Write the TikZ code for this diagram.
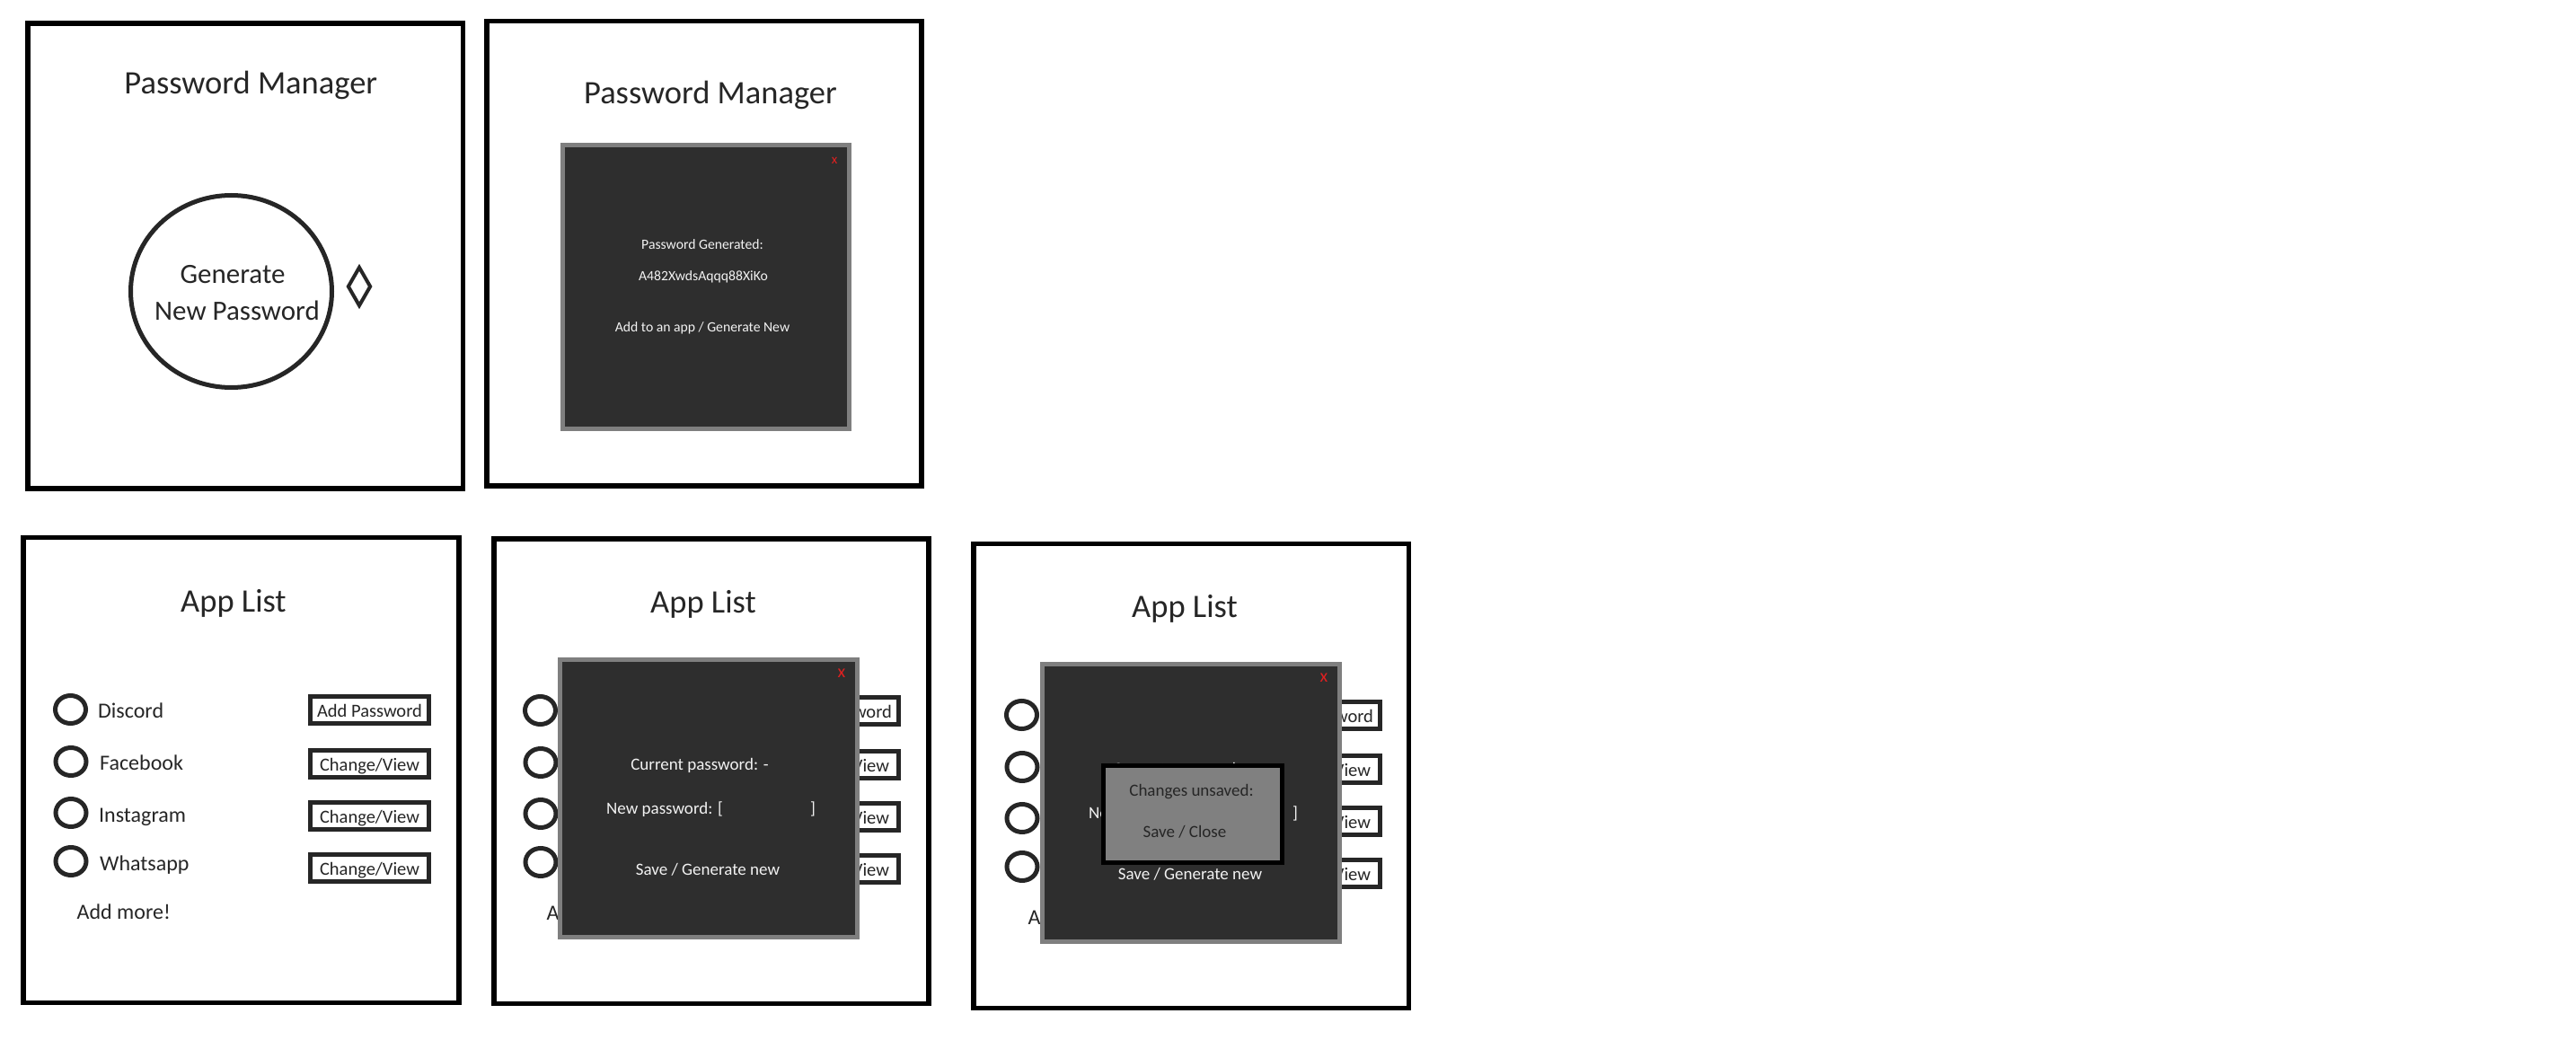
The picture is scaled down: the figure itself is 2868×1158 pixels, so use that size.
\documentclass[tikz,border=0pt]{standalone}
\usepackage{fontspec}
\setmainfont{Carlito}
\usetikzlibrary{shapes.geometric}
\definecolor{ink}{HTML}{262626}
\definecolor{dlgfill}{HTML}{2E2E2E}
\definecolor{dlgedge}{HTML}{7F7F7F}
\definecolor{popfill}{HTML}{808080}
\definecolor{redx}{HTML}{E02020}
\definecolor{dlgtext}{HTML}{F2F2F2}
\newcommand\fsz[1]{\fontsize{#1}{#1}\selectfont}
\tikzset{
  panel/.style={draw=black, line width=5.5pt},
  titletxt/.style={inner sep=0, anchor=base, text=ink, font=\fsz{36.5}},
  lbl/.style={inner sep=0, anchor=base west, text=ink, font=\fsz{24}},
  btn/.style={draw=ink, line width=5pt, rectangle, minimum width=132pt, minimum height=30pt,
    inner sep=0, text=ink, font=\fsz{20.5}, text height=16pt, text depth=0pt},
  appcircle/.style={draw=ink, line width=5pt, ellipse, minimum width=34pt, minimum height=31pt, inner sep=0},
  dialog/.style={draw=dlgedge, fill=dlgfill, line width=5pt, rectangle, inner sep=0},
  dtxt/.style={inner sep=0, anchor=base, text=dlgtext},
  closex/.style={inner sep=0, anchor=base, text=redx},
}
% list skeleton (title, circles, buttons, "Add more!")
\newcommand\applistpanel[3]{%
  \begin{scope}[shift={(#2,#3)}]
    \node[titletxt] (#1title) at (260,681) {App List};
    \node[appcircle] (#1c1) at (78.5,790) {};
    \node[appcircle] (#1c2) at (79,848) {};
    \node[appcircle] (#1c3) at (79,905) {};
    \node[appcircle] (#1c4) at (79,959) {};
    \node[lbl] (#1more) at (85.5,1023) {Add more!};
    \node[btn] (#1b1) at (411.5,790.5) {Add Password};
    \node[btn] (#1b2) at (411.5,850.5) {Change/View};
    \node[btn] (#1b3) at (411.5,908.5) {Change/View};
    \node[btn] (#1b4) at (411.5,966) {Change/View};
  \end{scope}}
% app names (only visible where no dialog covers them)
\newcommand\applistlabels[3]{%
  \begin{scope}[shift={(#2,#3)}]
    \node[lbl] (#1l1) at (109,799) {Discord};
    \node[lbl] (#1l2) at (111,857) {Facebook};
    \node[lbl] (#1l3) at (110,915) {Instagram};
    \node[lbl] (#1l4) at (111,969) {Whatsapp};
  \end{scope}}
\newcommand\editdialog[3]{%
  \begin{scope}[shift={(#2,#3)}]
    \node[dialog, minimum width=331pt, minimum height=309pt] (#1dlg) at (789,889) {};
    \node[closex, font=\fsz{20}] (#1x) at (937,754) {x};
    \node[dtxt, font=\fsz{19}] (#1cur) at (779,857) {Current password: -};
    \node[dtxt, font=\fsz{19}, anchor=base west] (#1new) at (675,906) {New password: [};
    \node[dtxt, font=\fsz{19}, anchor=base west] (#1br) at (902,906) {]};
    \node[dtxt, font=\fsz{19}] (#1save) at (788,974) {Save / Generate new};
  \end{scope}}
\begin{document}
\begin{tikzpicture}[x=1pt,y=-1pt]
\useasboundingbox (0,0) rectangle (2868,1158);
\fill[white] (0,0) rectangle (2868,1158);
% Panel 1
\draw[panel] (31,26) rectangle (515.5,544);
\node[titletxt] (t1) at (279.3,105) {Password Manager};
\node[draw=ink, line width=5pt, ellipse, minimum width=224pt, minimum height=214pt, inner sep=0] (gen) at (257.5,324.5) {};
\node[inner sep=0, anchor=base, text=ink, font=\fsz{31}] (gen1) at (259,316) {Generate};
\node[inner sep=0, anchor=base, text=ink, font=\fsz{31}] (gen2) at (264,356) {New Password};
\node[draw=ink, line width=4pt, diamond, minimum width=26pt, minimum height=44pt, inner sep=0] (dia) at (400,319) {};
% Panel 2
\draw[panel] (542,23.5) rectangle (1026,541);
\node[titletxt] (t2) at (791,116) {Password Manager};
\node[dialog, minimum width=319pt, minimum height=316pt] (gdlg) at (786,319.5) {};
\node[closex, font=\fsz{15}] (gx) at (929,183) {x};
\node[dtxt, font=\fsz{15.7}] (g1) at (782,278) {Password Generated:};
\node[dtxt, font=\fsz{15.7}] (g2) at (783,313) {A482XwdsAqqq88XiKo};
\node[dtxt, font=\fsz{15.7}] (g3) at (782,370) {Add to an app / Generate New};
% Panel 3
\draw[panel] (26,598.5) rectangle (511,1116.5);
\applistpanel{pa}{0}{0}
\applistlabels{pa}{0}{0}
% Panel 4
\draw[panel] (550,600) rectangle (1034,1117.5);
\applistpanel{pb}{523}{1}
\editdialog{db}{0}{0}
% Panel 5
\draw[panel] (1084,605.5) rectangle (1568.5,1122.5);
\applistpanel{pc}{1059}{6}
\editdialog{dc}{537}{5}
\node[draw=black, fill=popfill, line width=5pt, rectangle, minimum width=199pt, minimum height=108pt, inner sep=0] (pop) at (1328,906.5) {};
\node[inner sep=0, anchor=base, text=ink, font=\fsz{19}] (pop1) at (1326.5,886) {Changes unsaved:};
\node[inner sep=0, anchor=base, text=ink, font=\fsz{19}] (pop2) at (1319,932) {Save / Close};
\end{tikzpicture}
\end{document}
